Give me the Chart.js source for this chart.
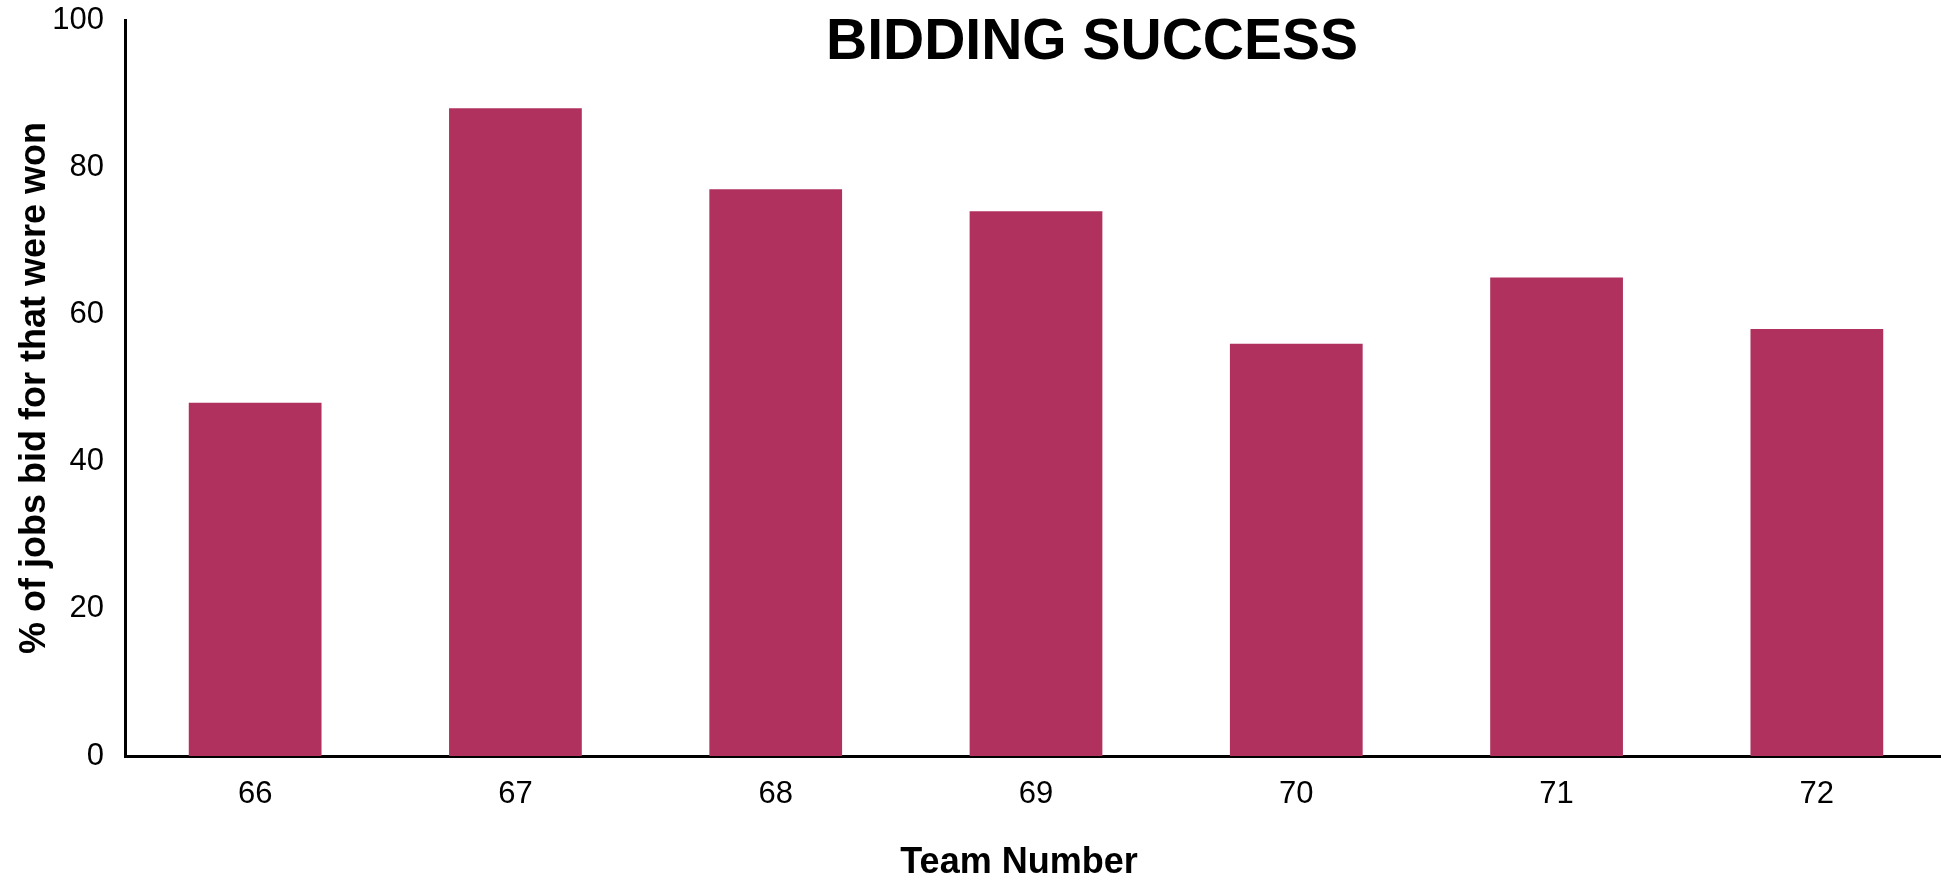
<!DOCTYPE html>
<html lang="en">
<head>
    <meta charset="UTF-8">
    <title>Bidding Success</title>
    <script src="https://cdn.jsdelivr.net/npm/chart.js"></script>
    <style>
        html, body {
            margin: 0;
            padding: 0;
            background: #fff;
            overflow: hidden;
        }
        .chart-box {
            width: 1947px;
            height: 881px;
        }
    </style>
</head>
<body>
    <div class="chart-box">
        <canvas id="biddingChart"></canvas>
    </div>

    <script>
        // data
        const teams = ['66', '67', '68', '69', '70', '71', '72'];
        const pctWon = [48, 88, 77, 74, 56, 65, 58];
        const yTicks = [0, 20, 40, 60, 80, 100];

        const chartTitle = 'BIDDING SUCCESS';
        const xTitle = 'Team Number';
        const yTitle = '% of jobs bid for that were won';

        const fontFamily = '"Liberation Sans", Arial, sans-serif';

        // main title sits inside the plot area and the x title is a bit left of centre,
        // so both are drawn after the chart
        const titlePlugin = {
            id: 'chartTexts',
            afterDraw(chart) {
                const c = chart.ctx;
                c.save();
                c.fillStyle = '#000';
                c.textAlign = 'center';

                c.font = 'bold 57px ' + fontFamily;
                c.textBaseline = 'alphabetic';
                c.fillText(chartTitle, 1092, 59);

                c.font = 'bold 36px ' + fontFamily;
                c.textBaseline = 'middle';
                c.fillText(xTitle, 1019, 863);
                c.restore();
            }
        };

        const ctx = document.getElementById('biddingChart').getContext('2d');
        const biddingChart = new Chart(ctx, {
            type: 'bar',
            data: {
                labels: teams,
                datasets: [{
                    label: 'Bidding success',
                    data: pctWon,
                    backgroundColor: '#b0305e',
                    borderWidth: 0,
                    barPercentage: 0.51,
                    categoryPercentage: 1.0
                }]
            },
            options: {
                responsive: true,
                maintainAspectRatio: false,
                animation: false,
                layout: {
                    padding: { left: 17, top: 20, right: 0, bottom: 0 }
                },
                plugins: {
                    legend: { display: false },
                    tooltip: { enabled: false }
                },
                scales: {
                    x: {
                        grid: { display: false, drawTicks: false },
                        border: { display: true, color: '#000', width: 3 },
                        ticks: {
                            color: '#000',
                            padding: 20,
                            font: { family: fontFamily, size: 31 }
                        },
                        // fixed band under the plot (tick padding is counted twice in fit)
                        afterFit(scale) {
                            scale.height = 125;
                        }
                    },
                    y: {
                        min: 0,
                        max: 100,
                        afterBuildTicks(scale) {
                            scale.ticks = yTicks.map(v => ({ value: v }));
                        },
                        grid: { display: false, drawTicks: false },
                        border: { display: true, color: '#000', width: 3 },
                        ticks: {
                            color: '#000',
                            padding: 21,
                            font: { family: fontFamily, size: 31 }
                        },
                        title: {
                            display: true,
                            text: yTitle,
                            color: '#000',
                            padding: { top: 0, bottom: 0 },
                            font: { family: fontFamily, size: 36, weight: 'bold', lineHeight: 1 }
                        },
                        afterFit(scale) {
                            scale.width = 108;
                            scale.paddingTop = 0;
                            scale.paddingBottom = 0;
                        }
                    }
                }
            },
            plugins: [titlePlugin]
        });
    </script>
</body>
</html>
